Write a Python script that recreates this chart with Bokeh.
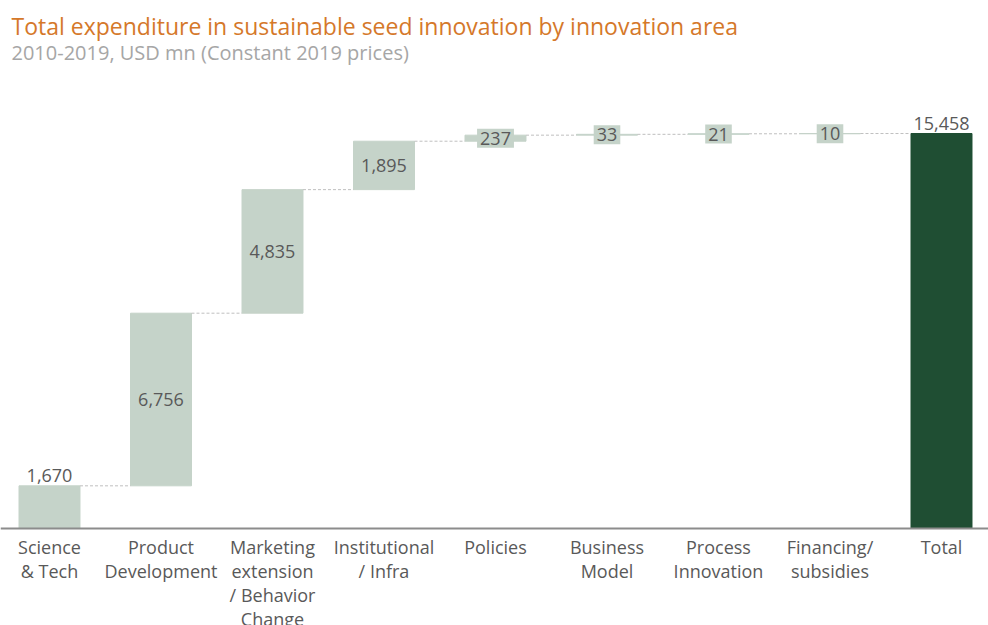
from bokeh.plotting import figure
from bokeh.models import ColumnDataSource, Range1d, Span, Label
from bokeh.core.properties import value
from bokeh.embed import file_html
from bokeh.resources import INLINE

# ---- data ----
title_text = "Total expenditure in sustainable seed innovation by innovation area"
subtitle_text = "2010-2019, USD mn (Constant 2019 prices)"
categories = ["Science\n& Tech", "Product\nDevelopment", "Marketing\nextension\n/ Behavior\nChange",
              "Institutional\n/ Infra", "Policies", "Business\nModel", "Process\nInnovation",
              "Financing/\nsubsidies", "Total"]
values = [1670, 6756, 4835, 1895, 237, 33, 21, 10]
total = 15458
value_labels = ["1,670", "6,756", "4,835", "1,895", "237", "33", "21", "10", "15,458"]

FONT = "Open Sans"
BAR = "#C5D3C9"
TOTAL_C = "#1F4E33"
TXT = "#595959"

n = len(values)
xs = list(range(n + 1))
bottoms, tops = [], []
run = 0
for v in values:
    bottoms.append(run)
    run += v
    tops.append(run)
bottoms.append(0)
tops.append(total)
colors = [BAR] * n + [TOTAL_C]
W = 0.547

H = 625
BASE = 528
k = 395 / 15458  # px per unit
X0, DX = 49, 111.5  # px of first category centre, px per category
y_min = -(H - BASE) / k
y_max = BASE / k

p = figure(width=988, height=H, output_backend="svg", toolbar_location=None,
           x_range=Range1d(-X0 / DX, (988 - X0) / DX), y_range=Range1d(y_min, y_max),
           x_axis_type=None, y_axis_type=None, min_border=0)
p.outline_line_color = None
p.background_fill_color = "white"
p.border_fill_color = "white"

# titles
p.add_layout(Label(x=(11 - X0) / DX, y=(BASE - 25.5) / k, text=title_text, text_font=FONT,
                   text_font_size="23px", text_color="#D5782A", text_baseline="alphabetic",
                   text_align="left"))
p.add_layout(Label(x=(11 - X0) / DX, y=(BASE - 52) / k, text=subtitle_text, text_font=FONT,
                   text_font_size="20px", text_color="#A6A6A6", text_baseline="alphabetic",
                   text_align="left"))

src = ColumnDataSource(dict(x=xs, bottom=bottoms, top=tops, color=colors, cat=categories))
p.vbar(x="x", bottom="bottom", top="top", width=W, color="color", source=src)

# connectors
p.segment(x0=[i + W / 2 for i in range(n)], x1=[i + 1 - W / 2 for i in range(n)],
          y0=tops[:n], y1=tops[:n], line_color="#BFBFBF", line_width=1, line_dash="3 2")

# baseline
p.add_layout(Span(location=0, dimension="width", line_color="#8C8C8C", line_width=2))

# labels: above bars (first and total)
above_idx = [0, n]
inside_idx = [i for i in range(n) if i not in above_idx]
src_above = ColumnDataSource(dict(x=[xs[i] for i in above_idx], y=[tops[i] for i in above_idx],
                                  lab=[value_labels[i] for i in above_idx]))
src_inside = ColumnDataSource(dict(x=[xs[i] for i in inside_idx],
                                   y=[(bottoms[i] + tops[i]) / 2 for i in inside_idx],
                                   lab=[value_labels[i] for i in inside_idx]))
p.text(x="x", y="y", text="lab", source=src_above, text_align="center",
       text_baseline="bottom", y_offset=-4, text_font=value(FONT),
       text_font_size="18px", text_color=TXT)
p.text(x="x", y="y", text="lab", source=src_inside, text_align="center",
       text_baseline="middle", text_font=value(FONT), text_font_size="18px",
       text_color=TXT, background_fill_color=BAR, padding=3)

# category labels
p.text(x="x", y=0, text="cat", source=src, text_align="center", text_baseline="top",
       y_offset=6, text_font=value(FONT), text_font_size="18px", text_color=TXT,
       text_line_height=1.0)

open("out.html", "w").write(file_html(p, INLINE))
